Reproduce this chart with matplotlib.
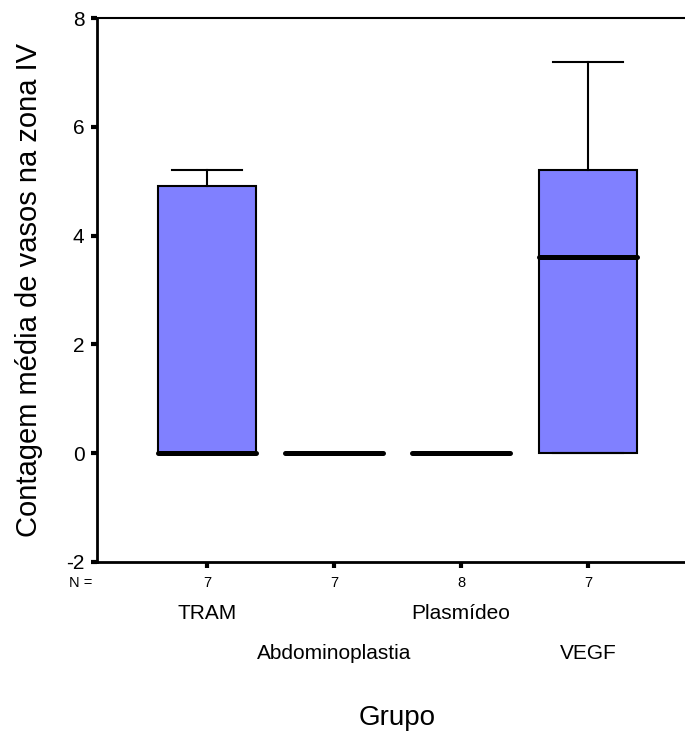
import matplotlib.pyplot as plt
from matplotlib.transforms import blended_transform_factory

plt.rcParams['font.family'] = ['Liberation Sans', 'DejaVu Sans']
plt.rcParams['axes.unicode_minus'] = False

# box statistics per group (vessel count, zone IV)
grupos = ["TRAM", "Abdominoplastia", "Plasmídeo", "VEGF"]
n_obs = [7, 7, 8, 7]
q1 = [0.0, 0.0, 0.0, 0.0]
mediana = [0.0, 0.0, 0.0, 3.6]
q3 = [4.92, 0.0, 0.0, 5.2]
whis_lo = [0.0, 0.0, 0.0, 0.0]
whis_hi = [5.2, 0.0, 0.0, 7.2]

pos = [1, 2, 3, 4]
stats = []
for i in range(len(grupos)):
    stats.append(dict(label=grupos[i], q1=q1[i], med=mediana[i], q3=q3[i],
                      whislo=whis_lo[i], whishi=whis_hi[i], fliers=[]))

fig = plt.figure(figsize=(6.85, 7.35), dpi=100)
ax = fig.add_axes([0.1416, 0.2354, 0.8774, 0.7401])

ax.bxp(stats, positions=pos, widths=0.77, patch_artist=True, showfliers=False,
       boxprops=dict(facecolor="#8080FF", edgecolor="black", linewidth=1.5),
       medianprops=dict(color="black", linewidth=3.6, solid_capstyle="round"),
       whiskerprops=dict(color="black", linewidth=1.5),
       capprops=dict(color="black", linewidth=1.5), capwidths=0.55)

ax.set_xlim(0.134, 4.866)
ax.set_ylim(-2, 8)
ax.set_yticks([-2, 0, 2, 4, 6, 8])
ax.tick_params(axis="y", labelsize=15, length=4, width=3, pad=5, direction="out")
ax.set_xticks(pos)
ax.set_xticklabels([str(n) for n in n_obs], fontsize=10.5)
ax.tick_params(axis="x", length=4, width=3, pad=6, direction="out")

ax.spines["left"].set_linewidth(2)
ax.spines["bottom"].set_linewidth(2)
ax.spines["top"].set_linewidth(1.5)
ax.spines["right"].set_visible(False)

ax.set_ylabel("Contagem média de vasos na zona IV", fontsize=21, labelpad=17)

tr = blended_transform_factory(ax.transData, ax.transAxes)
ax.text(0.134 - 0.13, -0.0385, "N =", transform=tr, fontsize=10.5,
        ha="center", va="center")
for i, g in enumerate(grupos):
    y = -0.0955 if i % 2 == 0 else -0.168
    ax.text(pos[i], y, g, transform=tr, fontsize=15, ha="center", va="center")

fig.text(0.58, 1 - 718 / 735, "Grupo", fontsize=20, ha="center", va="center")

fig.savefig("out.png", dpi=100)
